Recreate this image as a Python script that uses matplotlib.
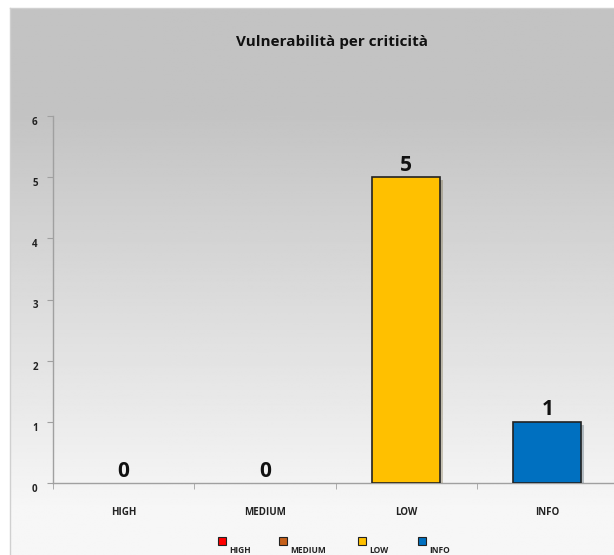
import numpy as np
import matplotlib.pyplot as plt
import matplotlib.transforms as mtransforms
import matplotlib.patheffects as pe
from matplotlib.lines import Line2D

plt.rcParams['font.family'] = ['Open Sans', 'DejaVu Sans']

categories = ['HIGH', 'MEDIUM', 'LOW', 'INFO']
counts = [0, 0, 5, 1]
colors = ['#ff0000', '#c5601a', '#ffc000', '#0070c0']
y_ticks = [0, 1, 2, 3, 4, 5, 6]

W, H = 614, 555
fig = plt.figure(figsize=(W / 100, H / 100), dpi=100, facecolor='white')

# chart background: gray at the top fading to almost white at the bottom
bg = fig.add_axes([10 / W, 0, 1 - 10 / W, 1 - 8 / H], zorder=0)
rows = np.linspace(0, 1, 300)
shade = np.where(rows < 0.19, 0.765, 0.765 + (0.965 - 0.765) * np.clip((rows - 0.19) / 0.72, 0, 1))
bg.imshow(np.repeat(shade[:, None], 2, axis=1), cmap='gray', vmin=0, vmax=1,
          aspect='auto', extent=[0, 1, 0, 1], origin='upper')
bg.set_xlim(0, 1)
bg.set_ylim(0, 1)
bg.set_xticks([])
bg.set_yticks([])
for side in ['right', 'bottom']:
    bg.spines[side].set_visible(False)
for side in ['left', 'top']:
    bg.spines[side].set_color('#d0d0d0')
    bg.spines[side].set_linewidth(1.0)

fig.text(332 / W, 1 - 42 / H, 'Vulnerabilità per criticità', ha='center', va='center',
         fontsize=11, fontweight='bold', color='#111111')

ax = fig.add_axes([53 / W, 1 - 483 / H, (618 - 53) / W, (483 - 116) / H], zorder=1)
ax.patch.set_alpha(0)
x = np.arange(len(categories))
bars = ax.bar(x, counts, width=0.48, color=colors, edgecolor='#222222', linewidth=1.2, zorder=3)
for b, v in zip(bars, counts):
    if v == 0:
        b.set_visible(False)
    else:
        b.set_path_effects([pe.SimplePatchShadow(offset=(2, -2), alpha=0.25), pe.Normal()])

for xi, v in zip(x, counts):
    ax.annotate(str(v), (xi, v), xytext=(0, 1), textcoords='offset points',
                ha='center', va='bottom', fontsize=15, fontweight='bold', color='#111111')

ax.set_xlim(-0.5, 3.5)
ax.set_ylim(0, 6)
ax.set_yticks(y_ticks)
ax.set_yticklabels([str(t) for t in y_ticks], fontsize=7, fontweight='bold', color='#222222')
ax.tick_params(axis='y', direction='out', length=4, color='#a0a0a0', pad=7)
shift = mtransforms.ScaledTranslation(0, -5 / 100, fig.dpi_scale_trans)
for lbl in ax.get_yticklabels():
    lbl.set_transform(lbl.get_transform() + shift)

ax.set_xticks(x)
ax.set_xticklabels(categories, fontsize=7, fontweight='bold', color='#222222')
ax.set_xticks(np.arange(-0.5, 4, 1.0), minor=True)
ax.tick_params(axis='x', which='major', length=0, pad=17)
ax.tick_params(axis='x', which='minor', direction='out', length=4, color='#a0a0a0')

for side in ['top', 'right']:
    ax.spines[side].set_visible(False)
for side in ['left', 'bottom']:
    ax.spines[side].set_color('#a0a0a0')
    ax.spines[side].set_linewidth(1.0)

# legend row along the bottom edge
legend_x = [222, 283, 362, 422]
for cat, col, lx in zip(categories, colors, legend_x):
    fig.add_artist(Line2D([lx / W], [1 - 541 / H], marker='s', markersize=5.5,
                          markerfacecolor=col, markeredgecolor='#222222',
                          markeredgewidth=0.8, linestyle='none', transform=fig.transFigure))
    fig.text((lx + 7) / W, 1 - 546 / H, cat, ha='left', va='top', fontsize=6,
             fontweight='bold', color='#222222')

fig.savefig('out.png', dpi=100)
